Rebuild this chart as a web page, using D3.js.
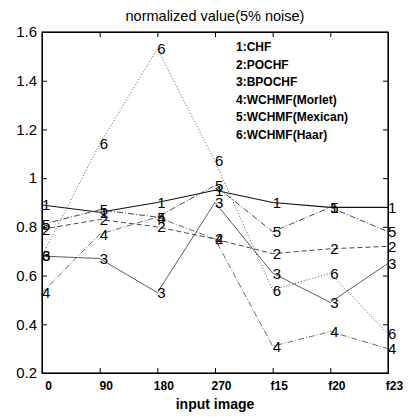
<!DOCTYPE html>
<html>
<head>
<meta charset="utf-8">
<script src="https://cdn.jsdelivr.net/npm/d3@7"></script>
<style>
  html, body { margin: 0; padding: 0; background: #fff; }
  svg { display: block; font-family: "Liberation Sans", Arial, sans-serif; }
</style>
</head>
<body>
<svg id="chart" width="417" height="417"></svg>
<script>
const categories = ['0', '90', '180', '270', 'f15', 'f20', 'f23'];
const chf     = [0.89, 0.86, 0.90, 0.95, 0.90, 0.88, 0.88];
const pochf   = [0.79, 0.83, 0.80, 0.75, 0.69, 0.71, 0.72];
const bpochf  = [0.68, 0.67, 0.53, 0.90, 0.61, 0.49, 0.65];
const morlet  = [0.53, 0.77, 0.84, 0.75, 0.31, 0.37, 0.30];
const mexican = [0.81, 0.87, 0.84, 0.97, 0.78, 0.88, 0.78];
const haar    = [0.68, 1.14, 1.53, 1.07, 0.54, 0.61, 0.36];
const seriesNames = ['1:CHF', '2:POCHF', '3:BPOCHF', '4:WCHMF(Morlet)', '5:WCHMF(Mexican)', '6:WCHMF(Haar)'];
const yTicks = [0.2, 0.4, 0.6, 0.8, 1, 1.2, 1.4, 1.6];

const series = [chf, pochf, bpochf, morlet, mexican, haar];
const styles = [
  { dash: null, color: '#111', width: 1.1 },
  { dash: '5,3', color: '#333', width: 0.9 },
  { dash: null, color: '#333', width: 0.8 },
  { dash: '6,2,1,2', color: '#444', width: 0.8 },
  { dash: '6,2,1,2', color: '#333', width: 0.9 },
  { dash: '1,2', color: '#444', width: 0.9 }
];

const svg = d3.select('#chart');
const plotLeft = 42, plotRight = 388, plotTop = 32, plotBottom = 373;

const x = d3.scalePoint().domain(categories).range([plotLeft, plotRight]);
const y = d3.scaleLinear().domain([0.2, 1.6]).range([plotBottom, plotTop]);

// title
svg.append('text')
  .attr('x', 215).attr('y', 21)
  .attr('text-anchor', 'middle')
  .style('font-size', '14.5px')
  .text('normalized value(5% noise)');

// axes, ticks inward
const fmt = d => String(+d.toFixed(1));
svg.append('g')
  .attr('transform', `translate(${plotLeft},0)`)
  .call(d3.axisLeft(y).tickValues(yTicks).tickFormat(fmt).tickSize(-5).tickPadding(5))
  .call(g => g.selectAll('text').style('font-size', '15px').attr('fill', '#000'));
svg.append('g')
  .attr('transform', `translate(${plotRight},0)`)
  .call(d3.axisRight(y).tickValues(yTicks).tickFormat('').tickSize(-5));
svg.append('g')
  .attr('transform', `translate(0,${plotTop})`)
  .call(d3.axisTop(x).tickFormat('').tickSize(-5));
svg.append('g')
  .attr('transform', `translate(0,${plotBottom})`)
  .call(d3.axisBottom(x).tickSize(-5).tickPadding(8))
  .call(g => g.selectAll('text')
    .attr('dx', 6)
    .style('font-size', '12px')
    .style('font-weight', 'bold')
    .attr('fill', '#000'));
svg.selectAll('.domain').attr('stroke', '#000');
svg.selectAll('.tick line').attr('stroke', '#000');

svg.append('rect')
  .attr('x', plotLeft).attr('y', plotTop)
  .attr('width', plotRight - plotLeft).attr('height', plotBottom - plotTop)
  .attr('fill', 'none').attr('stroke', '#000').attr('stroke-width', 1.2);

// x label
svg.append('text')
  .attr('x', 215).attr('y', 409)
  .attr('text-anchor', 'middle')
  .style('font-size', '14px')
  .style('font-weight', 'bold')
  .text('input image');

// lines
const line = d3.line().x((_, i) => x(categories[i])).y(d => y(d));
const layer = svg.append('g')
  .selectAll('g')
  .data(series)
  .enter()
  .append('g');

layer.append('path')
  .attr('d', d => line(d))
  .attr('fill', 'none')
  .attr('stroke', (_, i) => styles[i].color)
  .attr('stroke-width', (_, i) => styles[i].width)
  .attr('stroke-dasharray', (_, i) => styles[i].dash);

// numbered markers (left-aligned text at the point)
layer.each(function (d, si) {
  d3.select(this)
    .selectAll('text')
    .data(d)
    .enter()
    .append('text')
    .attr('x', (_, i) => x(categories[i]))
    .attr('y', v => y(v))
    .attr('dy', '0.36em')
    .style('font-size', '15px')
    .attr('fill', '#000')
    .text(si + 1);
});

// legend
svg.append('g')
  .selectAll('text')
  .data(seriesNames)
  .enter()
  .append('text')
  .attr('x', 236)
  .attr('y', (_, i) => 51 + i * 17.6)
  .style('font-size', '12px')
  .style('font-weight', 'bold')
  .text(d => d);
</script>
</body>
</html>
